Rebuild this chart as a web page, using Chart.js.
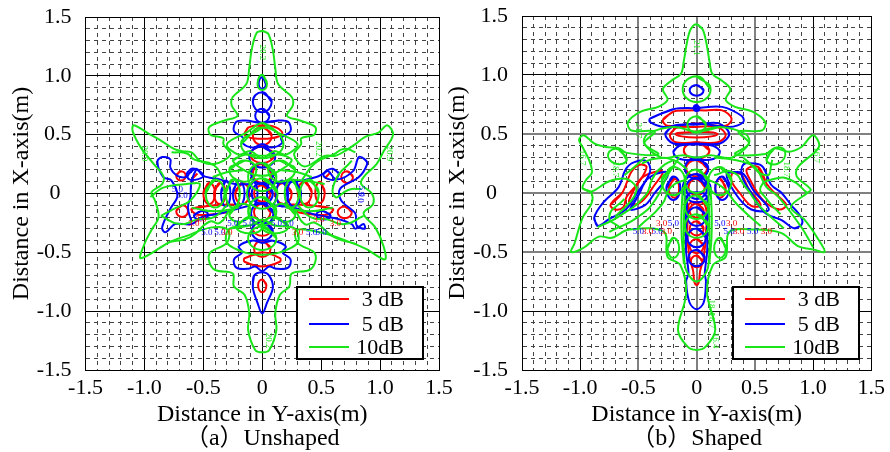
<!DOCTYPE html>
<html>
<head>
<meta charset="utf-8">
<style>
  html, body { margin: 0; padding: 0; background: #fff; }
  canvas { position: absolute; top: 0; }
</style>
<script src="https://cdn.jsdelivr.net/npm/chart.js@4"></script>
</head>
<body>
<canvas id="chart_a" width="470" height="452" style="left:0"></canvas>
<canvas id="chart_b" width="445" height="452" style="left:445px"></canvas>
<script>
// Legend and captions
const legendLabels = ['3 dB', '5 dB', '10dB'];
const legendColors = ['#ff0000', '#0000ff', '#19e619'];
const xTitle = 'Distance in Y-axis(m)';
const yTitle = 'Distance in X-axis(m)';
const captionA = '（a）Unshaped';
const captionB = '（b）Shaped';

// Contours, [Y-axis m, X-axis m]
// (a) Unshaped
const aGreenOuter = [[0,1.38],[.05,1.36],[.09,1.22],[.11,1.07],[.135,.93],[.25,.82],[.26,.75],[.21,.66],[.32,.62],[.45,.565],[.44,.5],[.33,.47],[.33,.42],[.27,.33],[.36,.23],[.53,.32],[.62,.32],[.7,.36],[.79,.42],[.87,.48],[.99,.52],[1.06,.58],[1.11,.5],[1.03,.36],[.97,.25],[.86,.14],[.84,.08],[.93,0],[.94,-.09],[.86,-.17],[.96,-.29],[1.03,-.45],[1.04,-.56],[.88,-.47],[.71,-.4],[.49,-.33],[.29,-.31],[.3,-.42],[.44,-.5],[.45,-.58],[.4,-.65],[.25,-.68],[.23,-.79],[.15,-.86],[.11,-1.02],[.12,-1.16],[.06,-1.33],[0,-1.35],[-.06,-1.33],[-.12,-1.16],[-.11,-1.02],[-.15,-.86],[-.24,-.79],[-.25,-.68],[-.4,-.65],[-.45,-.58],[-.44,-.5],[-.3,-.42],[-.29,-.31],[-.44,-.29],[-.64,-.36],[-.78,-.41],[-1.03,-.55],[-1,-.43],[-.94,-.31],[-.88,-.2],[-.91,-.06],[-.94,.01],[-.85,.08],[-.84,.15],[-.92,.25],[-1.03,.39],[-1.1,.53],[-1.09,.58],[-.95,.5],[-.86,.45],[-.75,.38],[-.68,.36],[-.6,.35],[-.53,.28],[-.41,.25],[-.27,.33],[-.33,.42],[-.33,.47],[-.44,.5],[-.45,.565],[-.32,.62],[-.21,.66],[-.26,.75],[-.25,.82],[-.135,.93],[-.11,1.07],[-.09,1.22],[-.05,1.36]];
const aGreenLoops = [
  [[0,.6],[.13,.52],[.3,.42],[.2,.33],[.1,.36],[0,.3],[-.1,.36],[-.2,.33],[-.3,.42],[-.13,.52]],
  [[-.25,.28],[-.15,.33],[0,.32],[.15,.33],[.25,.28],[.12,.18],[0,.15],[-.12,.18]],
  [[.13,0],[0,.13],[-.13,0],[0,-.13]],
  [[.12,.14],[0,.26],[-.12,.14],[0,.02]],
  [[.12,-.15],[0,-.03],[-.12,-.15],[0,-.27]],
  [[.31,0],[.25,.12],[.19,0],[.25,-.12]],
  [[-.31,0],[-.25,.12],[-.19,0],[-.25,-.12]],
  [[.48,0],[.4,.12],[.32,0],[.4,-.12]],
  [[-.48,0],[-.4,.12],[-.32,0],[-.4,-.12]],
  [[-.28,-.3],[-.1,-.27],[0,-.22],[.1,-.27],[.28,-.3],[.3,-.42],[.15,-.5],[0,-.52],[-.15,-.5],[-.3,-.42]],
  [[.04,.93],[0,1.01],[-.04,.93],[0,.88]],
  [[.12,-.38],[0,-.28],[-.12,-.38],[0,-.48]],
  [[-.18,.42],[0,.56],[.18,.42],[0,.3]],
  [[.28,.2],[.15,.28],[.05,.2],[.15,.1]],
  [[-.28,.2],[-.15,.28],[-.05,.2],[-.15,.1]],
  [[-.28,-.18],[-.18,-.09],[-.1,-.14],[-.18,-.24]],
  [[.28,-.18],[.18,-.09],[.1,-.14],[.18,-.24]],
  [[.22,-.28],[.1,-.2],[0,-.28],[.1,-.34]],
  [[-.22,-.28],[-.1,-.2],[0,-.28],[-.1,-.34]]
];
const aGreenWaves = [
  [[-.77,.35],[-.64,.34],[-.58,.29],[-.41,.24],[-.33,.12]],
  [[.79,.35],[.7,.38],[.6,.33],[.45,.26],[.34,.12]],
  [[.76,.28],[.62,.11],[.62,-.03],[.73,.03],[.84,.04]],
  [[-.95,-.03],[-.84,.05],[-.64,.08],[-.53,.08],[-.61,-.06],[-.75,-.13],[-.86,-.19]],
  [[.53,.08],[.42,.1],[.25,.12]],
  [[-.86,-.19],[-.7,-.26],[-.55,-.22],[-.41,-.2],[-.3,-.1]],
  [[-.78,-.41],[-.61,-.37],[-.45,-.24],[-.36,-.25],[-.28,-.14]],
  [[.86,-.19],[.7,-.26],[.55,-.22],[.41,-.2],[.3,-.1]],
  [[.8,-.43],[.61,-.37],[.45,-.25],[.36,-.26],[.28,-.14]],
  [[-.42,.14],[-.3,.18],[-.15,.2]],
  [[.42,.14],[.3,.18],[.15,.2]],
  [[-.6,-.12],[-.4,-.15],[-.2,-.12]],
  [[.6,-.12],[.4,-.15],[.2,-.12]]
];
const aBlue = [
  [[.08,.78],[0,.86],[-.08,.78],[0,.69]],
  [[.03,.93],[0,.99],[-.03,.93],[0,.89]],
  [[.06,.66],[0,.72],[-.06,.66],[0,.6]],
  [[0,.6],[.14,.62],[.22,.61],[.24,.53],[.16,.47],[.17,.43],[.08,.39],[0,.42],[-.08,.39],[-.17,.43],[-.16,.47],[-.24,.53],[-.22,.61],[-.14,.62]],
  [[.11,.31],[0,.4],[-.11,.31],[0,.22]],
  [[.095,.17],[0,.26],[-.095,.17],[0,.08]],
  [[.09,0],[0,.09],[-.09,0],[0,-.09]],
  [[.12,0],[.08,.1],[.04,0],[.08,-.1]],
  [[-.12,0],[-.08,.1],[-.04,0],[-.08,-.1]],
  [[.33,0],[.27,.11],[.21,0],[.27,-.11]],
  [[-.35,0],[-.31,.11],[-.27,0],[-.31,-.11]],
  [[-.25,0],[-.2,.11],[-.15,0],[-.2,-.11]],
  [[.22,0],[.17,.11],[.12,0],[.17,-.11]],
  [[.095,-.17],[0,-.08],[-.095,-.17],[0,-.27]],
  [[.09,-.32],[0,-.24],[-.09,-.32],[0,-.4]],
  [[-.07,-.7],[-.08,-.8],[-.04,-.93],[0,-1.02],[.04,-.93],[.09,-.8],[.06,-.7],[0,-.67]],
  [[0,-.42],[.08,-.4],[.2,-.45],[.17,-.5],[.24,-.56],[.22,-.63],[.12,-.64],[.06,-.62],[0,-.66],[-.06,-.62],[-.12,-.64],[-.22,-.63],[-.24,-.56],[-.17,-.5],[-.2,-.45],[-.08,-.4]],
  [[-.64,.17],[-.6,.21],[-.55,.2],[-.5,.15],[-.55,.12],[-.62,.12]],
  [[.65,.17],[.6,.21],[.54,.19],[.52,.15],[.57,.12],[.62,.12]],
  [[.58,-.19],[.52,-.15],[.46,-.18],[.52,-.22]],
  [[-.58,-.19],[-.52,-.15],[-.46,-.18],[-.52,-.22]]
];
const aBlueArms = [
  [[.1,.09],[.28,.1],[.46,.14],[.52,.17],[.56,.19],[.63,.12],[.77,.19],[.82,.31],[.87,.29],[.89,.25],[.82,.14],[.66,.04],[.67,-.06],[.79,-.17],[.8,-.27],[.87,-.3],[.86,-.26],[.79,-.3],[.76,-.26],[.62,-.21],[.45,-.18],[.3,-.13],[.1,-.1]],
  [[-.1,.08],[-.23,.08],[-.36,.12],[-.5,.15],[-.56,.21],[-.62,.17],[-.64,.14],[-.72,.15],[-.78,.22],[-.78,.29],[-.85,.31],[-.89,.27],[-.84,.14],[-.77,.11],[-.72,-.02],[-.78,-.13],[-.85,-.29],[-.82,-.33],[-.74,-.26],[-.6,-.26],[-.51,-.2],[-.36,-.17],[-.1,-.1]],
  [[-.56,.21],[-.6,.1],[-.61,-.03],[-.63,-.12],[-.6,-.24]]
];
const aRed = [
  [[.07,0],[0,.07],[-.07,0],[0,-.07]],
  [[.08,.17],[0,.25],[-.08,.17],[0,.09]],
  [[.1,.33],[0,.4],[-.1,.33],[0,.26]],
  [[.08,.49],[0,.57],[-.08,.49],[0,.41]],
  [[-.15,.5],[-.12,.56],[0,.58],[.12,.56],[.17,.51],[.08,.47],[-.08,.47]],
  [[.25,0],[.18,.09],[.11,0],[.18,-.09]],
  [[-.23,0],[-.17,.09],[-.11,0],[-.17,-.09]],
  [[.42,.01],[.36,.1],[.3,.01],[.36,-.09]],
  [[-.41,0],[-.36,.09],[-.31,0],[-.36,-.09]],
  [[.53,.01],[.49,.1],[.45,.01],[.49,-.08]],
  [[-.5,0],[-.45,.09],[-.4,0],[-.45,-.09]],
  [[.77,.14],[.72,.19],[.67,.14],[.72,.09]],
  [[-.73,.15],[-.69,.19],[-.65,.15],[-.69,.11]],
  [[.76,-.16],[.7,-.11],[.64,-.16],[.7,-.21]],
  [[-.73,-.15],[-.68,-.1],[-.63,-.15],[-.68,-.2]],
  [[.07,-.16],[0,-.09],[-.07,-.16],[0,-.23]],
  [[.08,-.3],[0,-.24],[-.08,-.3],[0,-.36]],
  [[.07,-.47],[0,-.4],[-.07,-.47],[0,-.54]],
  [[-.15,-.55],[0,-.5],[.15,-.55],[.15,-.58],[0,-.62],[-.15,-.58]],
  [[.035,-.78],[0,-.73],[-.035,-.78],[0,-.84]],
  [[.6,-.13],[.4,-.1],[.2,-.1],[.3,-.16],[.55,-.18]],
  [[-.6,-.13],[-.4,-.1],[-.2,-.1],[-.3,-.16],[-.55,-.18]],
  [[-.59,.13],[-.55,.17]],
  [[.53,.13],[.58,.18]]
];

// (b) Shaped
const bGreenOuter = [[0,1.43],[.05,1.39],[.08,1.29],[.11,1.12],[.135,1.01],[.22,.95],[.29,.88],[.25,.79],[.33,.73],[.48,.69],[.59,.6],[.56,.53],[.36,.52],[.45,.42],[.33,.33],[.59,.33],[.67,.38],[.79,.35],[.9,.39],[1,.49],[1.05,.39],[.87,.22],[.86,.14],[.98,.03],[.95,0],[.81,-.12],[.93,-.23],[1.05,-.4],[1.1,-.5],[1.01,-.48],[.87,-.45],[.73,-.34],[.5,-.31],[.28,-.33],[.25,-.54],[.14,-.61],[.09,-.85],[.16,-1.16],[.08,-1.3],[0,-1.33],[-.08,-1.3],[-.16,-1.16],[-.09,-.85],[-.14,-.61],[-.25,-.54],[-.28,-.33],[-.58,-.31],[-.73,-.38],[-.84,-.37],[-.98,-.47],[-1.08,-.5],[-1.05,-.43],[-.98,-.21],[-.9,-.08],[-.91,.01],[-.98,.04],[-.95,.11],[-.9,.17],[-.92,.27],[-.98,.39],[-1.01,.45],[-.97,.49],[-.88,.42],[-.78,.39],[-.67,.38],[-.6,.34],[-.33,.33],[-.45,.42],[-.36,.52],[-.56,.53],[-.59,.6],[-.48,.69],[-.33,.73],[-.25,.79],[-.29,.88],[-.22,.95],[-.135,1.01],[-.11,1.12],[-.08,1.29],[-.05,1.39]];
const bGreenLoops = [
  [[.12,.88],[0,.99],[-.12,.88],[0,.77]],
  [[.08,.58],[0,.65],[-.08,.58],[0,.51]],
  [[0,.52],[.2,.56],[.42,.5],[.45,.42],[.3,.3],[.12,.32],[0,.3],[-.12,.32],[-.3,.3],[-.45,.42],[-.42,.5],[-.2,.56]],
  [[.1,.1],[0,.2],[-.1,.1],[0,0]],
  [[.1,-.12],[0,-.02],[-.1,-.12],[0,-.22]],
  [[.1,-.28],[0,-.18],[-.1,-.28],[0,-.38]],
  [[.3,.1],[.2,.22],[.1,.1],[.2,-.02]],
  [[-.3,.1],[-.2,.22],[-.1,.1],[-.2,-.02]],
  [[.6,.28],[.67,.38],[.76,.35],[.7,.25]],
  [[-.6,.28],[-.67,.37],[-.76,.33],[-.7,.25]],
  [[.25,-.47],[.2,-.38],[.15,-.47],[.2,-.55]],
  [[-.25,-.47],[-.2,-.38],[-.15,-.47],[-.2,-.55]]
];
const bGreenWaves = [
  [[-.1,.05],[-.11,-.3],[-.1,-.62],[-.05,-.72],[0,-.75],[.05,-.72],[.1,-.62],[.11,-.3],[.1,.05]],
  [[-.12,.05],[-.13,-.3],[-.11,-.6]],
  [[.12,.05],[.13,-.3],[.11,-.6]],
  [[-.98,.04],[-.91,.01],[-.75,.1],[-.61,.12],[-.52,.05],[-.55,-.05],[-.7,-.2]],
  [[.95,0],[.81,.11],[.67,.12],[.55,.05],[.6,-.05],[.72,-.18]],
  [[-.75,-.33],[-.5,-.2],[-.35,-.05],[-.25,.15],[-.15,.3]],
  [[-.85,-.29],[-.67,-.2],[-.44,-.02],[-.38,.12],[-.3,.22],[-.2,.28]],
  [[-.47,.25],[-.36,.29],[-.2,.28],[-.08,.2]],
  [[-.62,.15],[-.5,.25],[-.45,.3]],
  [[.15,.3],[.33,.28],[.5,.22],[.6,.05],[.7,-.03],[.9,-.29],[1,-.46]],
  [[.15,.15],[.3,.18],[.42,.05],[.55,-.12],[.75,-.3]],
  [[.08,.12],[.22,.05],[.35,-.1],[.55,-.28]],
  [[-.08,.12],[-.22,.05],[-.3,-.1],[-.5,-.29]],
  [[-.62,-.05],[-.75,-.2],[-.65,-.3]],
  [[.4,.3],[.6,.15],[.65,.28]]
];
const bBlue = [
  [[.06,.87],[0,.915],[-.06,.87],[0,.825]],
  [[.025,.72],[0,.745],[-.025,.72],[0,.695]],
  [[.015,.72],[0,.735],[-.015,.72],[0,.705]],
  [[-.4,.63],[-.2,.71],[0,.72],[.22,.73],[.39,.65],[.4,.6],[.28,.56],[0,.59],[-.28,.56],[-.4,.6]],
  [[-.27,.5],[-.2,.57],[0,.58],[.19,.59],[.28,.5],[.2,.42],[0,.42],[-.2,.42]],
  [[-.2,.35],[-.15,.4],[0,.41],[.14,.4],[.2,.35],[.15,.29],[0,.28],[-.15,.29]],
  [[.1,.21],[0,.3],[-.1,.21],[0,.12]],
  [[.09,.04],[0,.13],[-.09,.04],[0,-.05]],
  [[.12,.04],[0,.16],[-.12,.04],[0,-.08]],
  [[-.26,.04],[-.2,.14],[-.14,.04],[-.2,-.06]],
  [[.28,.04],[.22,.14],[.16,.04],[.22,-.06]],
  [[-.85,-.28],[-.88,-.21],[-.81,-.09],[-.67,.05],[-.61,.2],[-.54,.26],[-.43,.27],[-.4,.18],[-.51,0],[-.61,-.14],[-.75,-.22]],
  [[.9,-.27],[.84,-.3],[.73,-.23],[.59,-.17],[.47,0],[.39,.14],[.4,.24],[.5,.25],[.57,.22],[.64,.07],[.73,0],[.81,-.1],[.9,-.21]],
  [[-.57,-.14],[-.5,-.02],[-.42,.12],[-.27,.18],[-.25,.14],[-.36,0],[-.44,-.1]],
  [[.26,.17],[.39,.17],[.49,.02],[.62,-.14],[.47,-.14],[.33,0]],
  [[-.08,-.02],[-.09,-.3],[-.09,-.5],[-.07,-.68],[-.09,-.75],[-.06,-.93],[0,-.985],[.06,-.93],[.08,-.75],[.07,-.68],[.09,-.5],[.09,-.3],[.08,-.02]],
  [[.08,-.2],[0,-.12],[-.08,-.2],[0,-.28]],
  [[.08,-.38],[0,-.3],[-.08,-.38],[0,-.46]],
  [[.07,-.55],[0,-.48],[-.07,-.55],[0,-.62]]
];
const bRed = [
  [[-.29,.62],[-.2,.69],[-.08,.7],[.08,.7],[.22,.7],[.3,.63],[.25,.57],[0,.59],[-.25,.57]],
  [[-.23,.49],[-.18,.55],[0,.56],[.18,.56],[.25,.49],[.18,.43],[0,.43],[-.18,.43]],
  [[-.18,.5],[0,.52],[.18,.5],[0,.47]],
  [[.11,.36],[0,.43],[-.11,.36],[0,.29]],
  [[.09,.21],[0,.28],[-.09,.21],[0,.14]],
  [[.07,.05],[0,.12],[-.07,.05],[0,-.02]],
  [[-.24,.04],[-.19,.12],[-.15,.04],[-.19,-.04]],
  [[.25,.04],[.2,.12],[.16,.04],[.2,-.04]],
  [[.53,.22],[.6,.08],[.67,0],[.77,-.1],[.71,-.14],[.57,-.06],[.46,.11],[.43,.2]],
  [[-.74,-.1],[-.64,0],[-.56,.18],[-.49,.24],[-.43,.22],[-.49,.1],[-.6,-.03],[-.63,-.12],[-.7,-.14]],
  [[.31,.17],[.38,.16],[.45,.03],[.55,-.1],[.47,-.11],[.37,0],[.3,.1]],
  [[-.58,-.06],[-.49,.11],[-.39,.17],[-.29,.18],[-.36,.07],[-.47,-.07],[-.56,-.1]],
  [[-.07,-.1],[-.08,-.35],[-.06,-.55],[-.03,-.66],[-.02,-.75],[0,-.78],[.02,-.75],[.03,-.66],[.06,-.55],[.08,-.35],[.07,-.1]],
  [[.06,-.15],[0,-.09],[-.06,-.15],[0,-.21]],
  [[.06,-.3],[0,-.24],[-.06,-.3],[0,-.36]],
  [[.06,-.45],[0,-.39],[-.06,-.45],[0,-.51]],
  [[.05,-.58],[0,-.53],[-.05,-.58],[0,-.63]]
];

// Small contour labels: text, x, y, colour index, rotated
const aLabelText = ['20.2', '20.2', '20.9', '20.9', '20.2', '5.0', '5.0', '5.0', '5.0', '3.0', '3.0', '3.0', '3.0', '5.0', '5.0', '3.0', '3.0', '5.0', '5.0', '5.0', '5.0', '5.0', '5.0'];
const aLabelX = [0, .48, -1, 1.08, .05, -.47, -.36, .42, .5, -.3, .3, -.58, .62, -.25, .22, -.52, .48, -.72, .84, -.68, .83, -.12, .12];
const aLabelY = [1.2, .38, .34, .34, -1.25, -.33, -.33, -.33, -.33, -.33, -.33, -.26, -.26, -.26, -.26, -.22, -.22, .03, .02, -.02, -.03, -.26, -.26];
const aLabelColor = [2, 2, 2, 2, 2, 1, 1, 1, 1, 0, 0, 0, 0, 1, 1, 0, 0, 1, 1, 1, 1, 1, 1];
const aLabelTurn = [1, 1, 1, 1, 1, 0, 0, 0, 0, 0, 0, 0, 0, 0, 0, 0, 0, 0, 1, 0, 1, 0, 0];
const bLabelText = ['21.1', '16.7', '18.7', '16.7', '18.7', '18.4', '18.7', '16.4', '21.7', '5.0', '5.0', '5.0', '5.0', '3.0', '3.0', '3.0', '3.0', '5.0', '5.0', '3.0', '3.0'];
const bLabelX = [0, 1.03, .77, -.98, -.7, .13, .13, .16, -.5, -.5, -.34, .28, .48, -.42, -.26, .36, .6, -.2, .2, -.3, .3];
const bLabelY = [1.23, .32, .2, .3, .2, -.97, -1.08, -1.25, .53, -.33, -.33, -.33, -.33, -.33, -.33, -.33, -.33, -.26, -.26, -.26, -.26];
const bLabelColor = [2, 2, 2, 2, 2, 2, 2, 2, 2, 1, 1, 1, 1, 0, 0, 0, 0, 1, 1, 0, 0];
const bLabelTurn = [1, 1, 1, 1, 1, 1, 1, 1, 1, 0, 0, 0, 0, 0, 0, 0, 0, 0, 0, 0, 0];

const serif = '"Liberation Serif", "Noto Sans CJK SC", serif';

// Append the first two points so the spline closes without a corner
function closed(pts) {
    return pts.concat([pts[0], pts[1]]);
}

function contourSet(list, color) {
    return list.map(pts => ({
        data: pts.map(p => ({ x: p[0], y: p[1] })),
        borderColor: color,
        borderWidth: 2,
        pointRadius: 0,
        showLine: true,
        tension: pts.length <= 6 ? 0.55 : 0.35
    }));
}

// Legend box sits inside the plot, drawn last
const legendBox = {
    id: 'legendBox',
    afterDraw(chart, args, opts) {
        const ctx = chart.ctx;
        ctx.save();
        ctx.fillStyle = '#fff';
        ctx.strokeStyle = '#000';
        ctx.lineWidth = 2;
        ctx.fillRect(opts.x, 287, 126, 72);
        ctx.strokeRect(opts.x, 287, 126, 72);
        ctx.font = '22px ' + serif;
        ctx.textAlign = 'right';
        ctx.textBaseline = 'middle';
        const rowY = [299, 324, 347];
        legendLabels.forEach((label, i) => {
            ctx.strokeStyle = legendColors[i];
            ctx.beginPath();
            ctx.moveTo(opts.x + 12, rowY[i]);
            ctx.lineTo(opts.x + 52, rowY[i]);
            ctx.stroke();
            ctx.fillStyle = '#000';
            ctx.fillText(label, opts.x + 107, rowY[i] + 1);
        });
        ctx.restore();
    }
};

// Tiny labels the contour tool left on the curves
const contourLabels = {
    id: 'contourLabels',
    afterDatasetsDraw(chart, args, opts) {
        const ctx = chart.ctx;
        ctx.save();
        ctx.font = '9px ' + serif;
        ctx.textAlign = 'center';
        ctx.textBaseline = 'middle';
        opts.text.forEach((t, i) => {
            ctx.save();
            ctx.translate(chart.scales.x.getPixelForValue(opts.x[i]), chart.scales.y.getPixelForValue(opts.y[i]));
            if (opts.turn[i]) ctx.rotate(Math.PI / 2);
            ctx.fillStyle = legendColors[opts.color[i]];
            ctx.fillText(t, 0, 0);
            ctx.restore();
        });
        ctx.restore();
    }
};

function tenths(v) {
    return Math.round(v * 10);
}

function tickLabel(v) {
    const t = tenths(v);
    if (t % 5 !== 0) return '';
    return t === 0 ? '0' : (t / 10).toFixed(1);
}

function makeChart(id, cfg) {
    const gridColor = ctx => {
        const t = tenths(ctx.tick.value);
        if (t % 5 !== 0) return '#444';
        return cfg.isGrey(t) ? '#808080' : '#000';
    };
    const gridWidth = ctx => {
        const t = tenths(ctx.tick.value);
        return t % 5 === 0 && cfg.isGrey(t) ? 2 : 1;
    };
    const axisBase = {
        type: 'linear',
        min: -1.5,
        max: 1.5,
        grid: { color: gridColor, lineWidth: gridWidth, drawTicks: false },
        border: {
            color: '#000',
            width: 1,
            dash: ctx => (ctx.tick && tenths(ctx.tick.value) % 5 !== 0 ? [4, 4] : [])
        }
    };
    const tickFont = { family: serif, size: 22 };
    const titleFont = { family: serif, size: 24, lineHeight: 1 };
    return new Chart(document.getElementById(id), {
        type: 'scatter',
        data: { datasets: cfg.datasets },
        plugins: [legendBox, contourLabels],
        options: {
            responsive: false,
            animation: false,
            layout: { padding: { top: cfg.top, right: cfg.right, left: 0, bottom: 0 } },
            plugins: {
                legend: { display: false },
                tooltip: { enabled: false },
                legendBox: { x: cfg.legendX },
                contourLabels: cfg.labels
            },
            scales: {
                x: Object.assign({}, axisBase, {
                    afterFit(axis) { axis.height = 82; },
                    ticks: { stepSize: 0.1, autoSkip: false, maxRotation: 0, color: '#000', font: tickFont, padding: 5, callback: tickLabel },
                    title: { display: true, text: [xTitle, cfg.caption], color: '#000', font: titleFont, padding: { bottom: 1 } }
                }),
                y: Object.assign({}, axisBase, {
                    // tick padding also pads the axis ends, which would shrink the plot
                    afterFit(axis) { axis.width = cfg.axisWidth; axis.paddingTop = 0; axis.paddingBottom = 0; },
                    ticks: { stepSize: 0.1, autoSkip: false, color: '#000', font: tickFont, padding: 14,
                        callback: v => (tenths(v) === 0 ? '0\u00a0\u00a0' : tickLabel(v)) },
                    title: { display: true, text: yTitle, color: '#000', font: titleFont, padding: cfg.titlePad }
                })
            }
        }
    });
}

// Chart.js paints the first dataset on top, so green goes first
makeChart('chart_a', {
    top: 17, right: 31, axisWidth: 85.5, legendX: 297, titlePad: 10, caption: captionA,
    isGrey: () => false,
    labels: { text: aLabelText, x: aLabelX, y: aLabelY, color: aLabelColor, turn: aLabelTurn },
    datasets: [
        ...contourSet(aGreenLoops.concat([aGreenOuter]).map(closed), legendColors[2]),
        ...contourSet(aGreenWaves, legendColors[2]),
        ...contourSet(aBlue.map(closed), legendColors[1]),
        ...contourSet(aBlueArms, legendColors[1]),
        ...contourSet(aRed.map(closed), legendColors[0])
    ]
});

makeChart('chart_b', {
    top: 16, right: 14.5, axisWidth: 77, legendX: 288, titlePad: 1, caption: captionB,
    isGrey: t => t === 0 || Math.abs(t) === 5,
    labels: { text: bLabelText, x: bLabelX, y: bLabelY, color: bLabelColor, turn: bLabelTurn },
    datasets: [
        ...contourSet(bGreenLoops.concat([bGreenOuter]).map(closed), legendColors[2]),
        ...contourSet(bGreenWaves, legendColors[2]),
        ...contourSet(bBlue.map(closed), legendColors[1]),
        ...contourSet(bRed.map(closed), legendColors[0])
    ]
});
</script>
</body>
</html>
